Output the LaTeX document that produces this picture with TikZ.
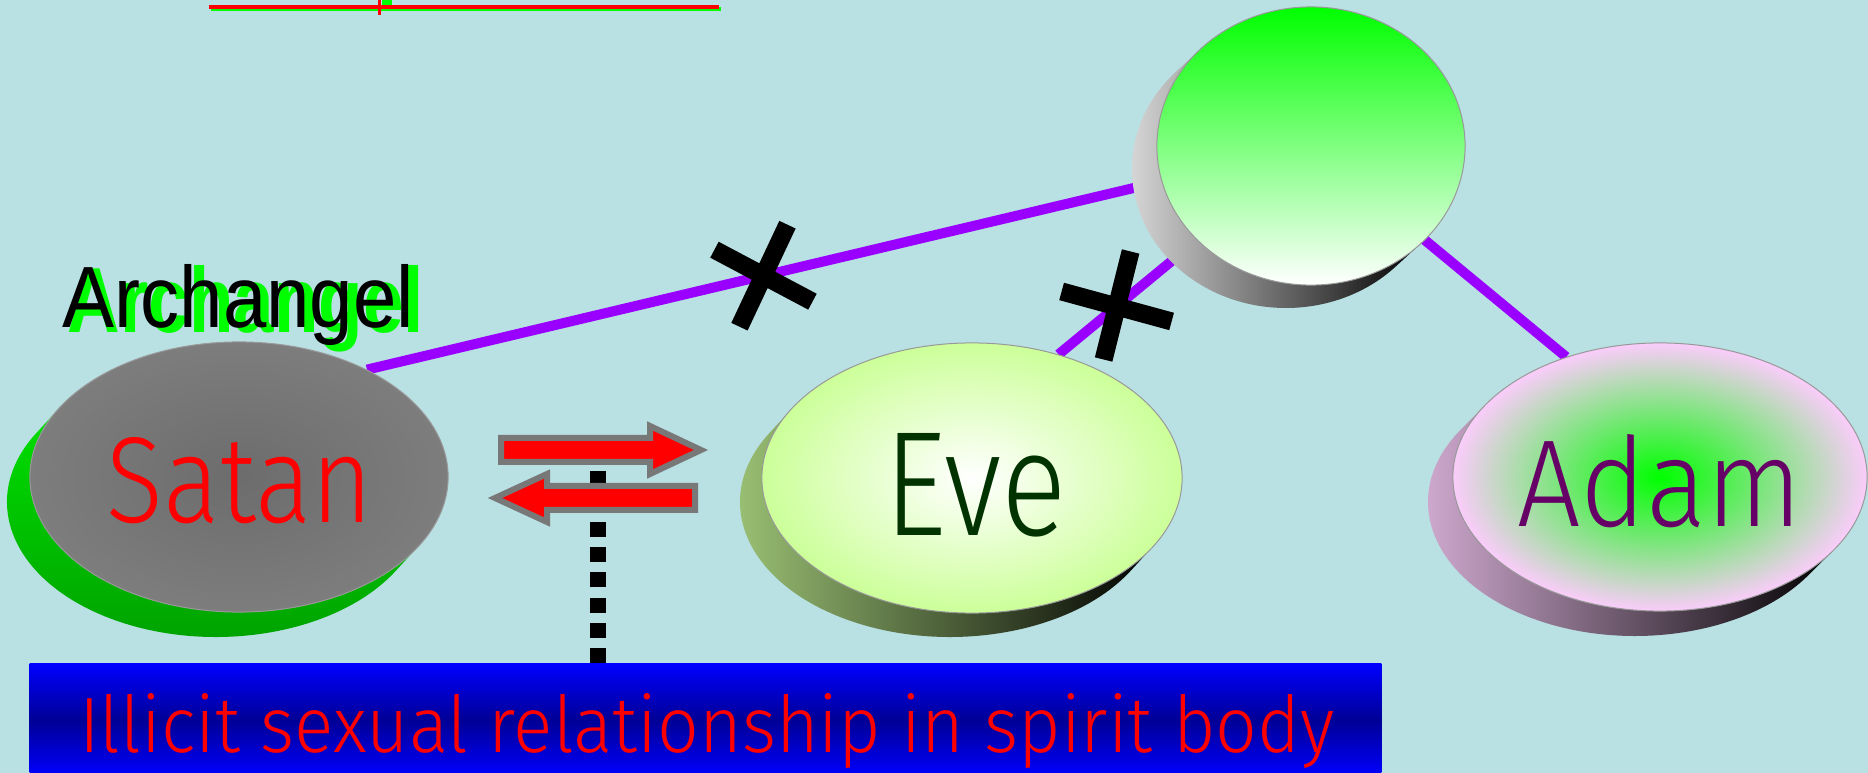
\documentclass[tikz,border=0pt]{standalone}
\usepackage{fontspec}
\usepackage{graphicx}
\usepackage{tikz}
\usetikzlibrary{shapes.geometric}
\usetikzlibrary{backgrounds}
\usetikzlibrary{calc}
\newfontfamily\thinfont{Fira Sans Light}
\newfontfamily\arialfont{Liberation Sans}
\definecolor{bgteal}{RGB}{185,224,227}
\definecolor{linkpurple}{RGB}{153,0,255}
\definecolor{evegreen}{RGB}{204,255,153}
\definecolor{adampink}{RGB}{250,204,250}
\definecolor{adamtext}{RGB}{102,0,102}
\definecolor{evetext}{RGB}{0,51,0}
\definecolor{arrowgray}{RGB}{120,120,120}
\definecolor{navy}{RGB}{0,0,150}
\pgfdeclarelayer{background}
\pgfdeclarelayer{lines}
\pgfsetlayers{background,lines,main}
\tikzset{every picture/.style={show background rectangle,inner frame sep=0pt},background rectangle/.style={fill=bgteal}}

\begin{document}
\begin{tikzpicture}[x=0.01cm,y=-0.01cm,
face/.style={ellipse,inner sep=0pt,draw=gray!80,line width=0.01cm},
satanface/.style={face,minimum width=4.18cm,minimum height=2.7cm,inner color=gray!115!white,outer color=gray!98!black},
eveface/.style={face,minimum width=4.2cm,minimum height=2.7cm,inner color=white,outer color=evegreen},
adamface/.style={face,minimum width=4.14cm,minimum height=2.68cm,inner color=green,outer color=adampink},
topface/.style={face,minimum width=3.08cm,minimum height=2.78cm,top color=green,bottom color=white},
satanside/.style={top color=green!88!black,bottom color=green!62!black},
eveside/.style={left color=evegreen!80!black,right color=black},
adamside/.style={left color=adampink!88!black,right color=black},
topside/.style={left color=white!88!black,right color=black},
lbl/.style={inner sep=0pt,anchor=base,font=\thinfont},
link/.style={linkpurple,line width=0.1cm},
cross/.style={black,line width=0.18cm},
flowarrow/.style={fill=red,draw=arrowgray,line width=0.06cm},
dotline/.style={black,line width=0.15cm,dash pattern=on 0.15cm off 0.103cm},
banner/.style={inner sep=0pt,minimum width=13.51cm,minimum height=1.12cm,top color=blue,bottom color=blue,middle color=navy}]
\useasboundingbox (0,0) rectangle (1868,773);
\fill[green] (211,7) rectangle (721,11);
\fill[red] (209,5) rectangle (719,9);
\fill[green] (382,0) rectangle (392,5);
\fill[red] (378,0) rectangle (381,15);
\coordinate (satanc) at (239,477);
\coordinate (evec) at (972,478);
\coordinate (adamc) at (1660,477);
\coordinate (topc) at (1311,146);
\foreach \c/\a/\b/\vx/\vy/\s in {satanc/209/135/-23/25/satanside,evec/210/135/-22/24/eveside,adamc/207/134/-25/25/adamside,topc/154/139/-25/23/topside} {
\pgfmathsetmacro\ang{atan2(-\b*(\vx),\a*(\vy))}
\pgfmathsetmacro\angb{\ang+180}
\path[\s] ($(\c)+(\vx,\vy)+({\a*cos(\ang)},{\b*sin(\ang)})$) arc[start angle=\ang,end angle=\angb,x radius=\a,y radius=\b] -- ($(\c)+({\a*cos(\angb)},{\b*sin(\angb)})$) arc[start angle=\angb,end angle=\ang,x radius=\a,y radius=\b] -- cycle;
}
\node[satanface] (satan) at (satanc) {};
\node[eveface] (eve) at (evec) {};
\node[adamface] (adam) at (adamc) {};
\node[topface] (top) at (topc) {};
\node[lbl,text=red] (satanlbl) at (240,523) {\resizebox{2.66cm}{0.85cm}{Satan}};
\node[lbl,text=evetext] (evelbl) at (976,535) {\resizebox{1.82cm}{1.02cm}{Eve}};
\node[lbl,text=adamtext] (adamlbl) at (1660,527) {\resizebox{2.85cm}{0.92cm}{Adam}};
\node[inner sep=0pt,anchor=base west,text=green,font=\arialfont\bfseries] (archsh) at (67,333) {\resizebox{3.56cm}{0.67cm}{Archangel}};
\node[inner sep=0pt,anchor=base west,text=black,font=\arialfont] (arch) at (62,328) {\resizebox{3.51cm}{0.63cm}{Archangel}};
\node[banner] (banner) at (705.5,720) {};
\node[lbl,text=red] (bannerlbl) at (707,752) {\resizebox{12.55cm}{0.59cm}{Illicit sexual relationship in spirit body}};
\coordinate (dottop) at (598,447);
\draw[dotline] (banner.north -| dottop) -- (dottop);
\draw[flowarrow] (501,438) -- (650,438) -- (650,426) -- (701,450) -- (650,474) -- (650,462) -- (501,462) -- cycle;
\draw[flowarrow] (695,486) -- (547,486) -- (547,474) -- (495,498) -- (547,522) -- (547,510) -- (695,510) -- cycle;
\begin{pgfonlayer}{lines}
\draw[link] (satan.40) -- (top.center);
\draw[link] (eve.55) -- (top.center);
\draw[link] (top.center) -- (adam.128);
\end{pgfonlayer}
\path (satan.40) -- (top.center) coordinate[pos=0.42] (cut1);
\path (eve.55) -- (top.center) coordinate[pos=0.23] (cut2);
\draw[cross] ($(cut1)+(-49,-26)$) -- ($(cut1)+(49,26)$) ($(cut1)+(24,-51)$) -- ($(cut1)+(-24,51)$);
\draw[cross] ($(cut2)+(-55,-15)$) -- ($(cut2)+(55,15)$) ($(cut2)+(14,-55)$) -- ($(cut2)+(-13,53)$);
\end{tikzpicture}
\end{document}
